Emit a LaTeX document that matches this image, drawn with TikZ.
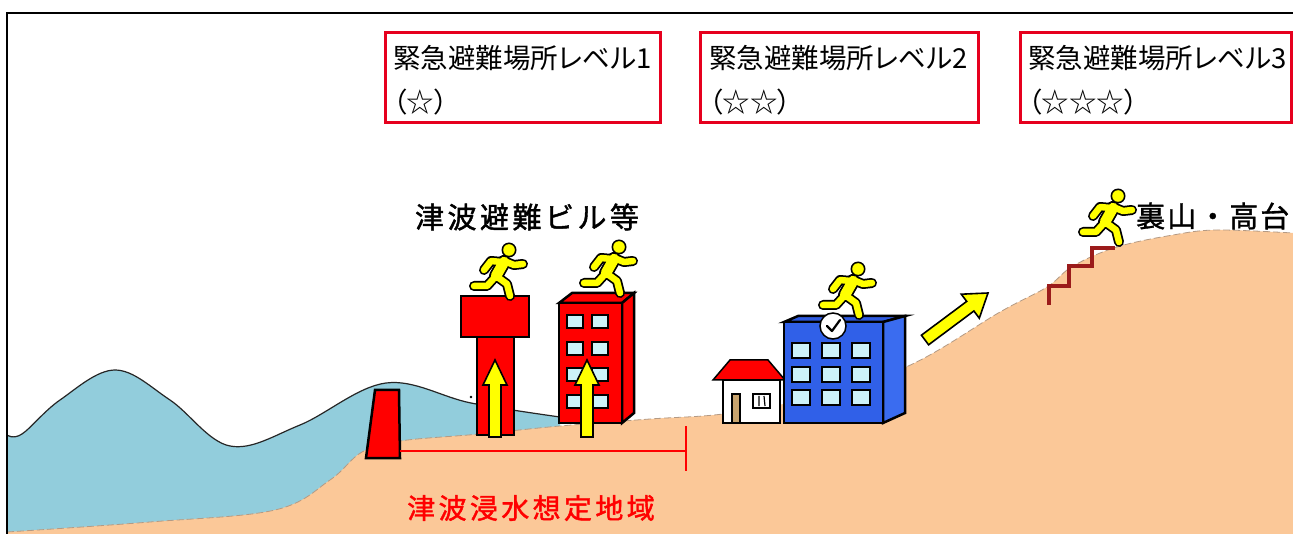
\documentclass[tikz,border=0pt]{standalone}
\usepackage{fontspec}
\newfontfamily\jpbox{Noto Sans CJK JP}[RawFeature=+palt]
\newfontfamily\jplabel{Noto Sans CJK JP}[FakeBold=1.5,LetterSpace=12]
\newfontfamily\jphill{Noto Sans CJK JP}[FakeBold=1.2,LetterSpace=7]
\definecolor{sea}{HTML}{92CDDC}
\definecolor{land}{HTML}{FBC898}
\definecolor{shore}{HTML}{B49A84}
\definecolor{boxred}{HTML}{E6001E}
\definecolor{brightred}{HTML}{FF0000}
\definecolor{runyellow}{HTML}{FFFF00}
\definecolor{stair}{HTML}{9B1B1B}
\definecolor{glass}{HTML}{CCF2FA}
\definecolor{bluefront}{HTML}{3060E8}
\definecolor{blueside}{HTML}{3A6CF0}
\definecolor{bluetop}{HTML}{2F5BE0}
\definecolor{door}{HTML}{C8A46E}
\tikzset{
  levelbox/.style={draw=boxred, line width=3pt, minimum width=#1, minimum height=90pt, inner sep=0pt},
  boxtext/.style={anchor=west, inner sep=0pt, font=\jpbox\fontsize{27.5}{30}\selectfont},
  solid edge/.style={draw=black, line width=2.5pt, line join=miter},
  thin edge/.style={draw=black, line width=1.5pt, line join=miter},
  pane/.style={fill=glass, draw=black, line width=1.6pt},
  limbs/.style={line cap=round, line join=round},
  runner/.pic={
    \draw[black, line width=14pt, limbs] (33,20) -- (25,34);
    \draw[black, line width=10pt, limbs]
      (33,19) -- (43,23) -- (52,22)
      (31,20) -- (20,19) -- (13,28)
      (25,34) -- (16,44) -- (3,44)
      (25,34) -- (36,42) -- (39,54);
    \fill[black] (38,8) circle [radius=7.5pt];
    \draw[runyellow, line width=10.5pt, limbs] (33,20) -- (25,34);
    \draw[runyellow, line width=6.5pt, limbs]
      (33,19) -- (43,23) -- (52,22)
      (31,20) -- (20,19) -- (13,28)
      (25,34) -- (16,44) -- (3,44)
      (25,34) -- (36,42) -- (39,54);
    \fill[runyellow] (38,8) circle [radius=5.8pt];
  },
  risearrow/.pic={
    \draw[fill=runyellow, draw=black, line width=1.6pt, line join=miter]
      (-6,77) -- (-6,25) -- (-12,25) -- (0,0) -- (12,25) -- (6,25) -- (6,77) -- cycle;
  }
}
\begin{document}
\begin{tikzpicture}[x=1pt, y=-1pt]
\useasboundingbox (0,0) rectangle (1293,534);
\fill[white] (0,0) rectangle (1293,534);

% sea
\fill[sea] plot[smooth, tension=0.6] coordinates {(7,435) (22,434) (60,400) (115,370) (170,400) (230,446) (300,425) (386,383) (471,403) (560,417)}
  -- (560,534) -- (7,534) -- cycle;

% land
\fill[land] plot[smooth, tension=0.6] coordinates {(7,532) (150,522) (275,510) (330,480) (362,452) (400,441) (480,434) (560,426) (650,419) (723,414) (800,400) (906,367) (1000,312) (1047,287) (1073,266) (1117,247) (1173,235) (1217,230) (1293,233)}
  -- (1293,534) -- (7,534) -- cycle;
\draw[shore, line width=0.8pt, dash pattern=on 7pt off 3pt] plot[smooth, tension=0.6] coordinates {(7,532) (150,522) (275,510) (330,480) (362,452) (400,441) (480,434) (560,426) (650,419) (723,414) (800,400) (906,367) (1000,312) (1047,287) (1073,266) (1117,247) (1173,235) (1217,230) (1293,233)};

% wave surface
\draw[black!85, line width=1.2pt] plot[smooth, tension=0.6] coordinates {(7,435) (22,434) (60,400) (115,370) (170,400) (230,446) (300,425) (386,383) (471,403) (560,417)};
\fill[black] (471,397) circle [radius=1.3pt];

% seawall
\draw[solid edge, fill=brightred] (375,390) -- (399,390) -- (400,458) -- (366,458) -- cycle;

% expected inundation range
\coordinate (rangeL) at (400,451);
\coordinate (rangeR) at (686,451);
\draw[brightred, line width=2.5pt] (rangeL) -- (rangeR);
\draw[brightred, line width=2.5pt] (686,426) -- (686,471);

% evacuation tower
\draw[solid edge, fill=brightred] (477,337) rectangle (514,435);
\draw[solid edge, fill=brightred] (461,296) rectangle (529,337);
\pic at (495,360) {risearrow};

% evacuation building (red)
\draw[solid edge, fill=brightred] (559,303) -- (572,293) -- (634,293) -- (622,303) -- cycle;
\draw[solid edge, fill=brightred] (622,303) -- (634,293) -- (634,413) -- (622,423) -- cycle;
\draw[solid edge, fill=brightred] (559,303) rectangle (622,423);
\foreach \wy in {315,342,368,395} {
  \draw[pane] (567,\wy) rectangle (583,\wy+13);
  \draw[pane] (592,\wy) rectangle (608,\wy+13);
}
\pic at (587,360) {risearrow};

% house
\draw[thin edge, fill=white] (723,380) rectangle (780,423);
\draw[thin edge, fill=brightred] (713,380) -- (730,360) -- (768,360) -- (785,380) -- cycle;
\draw[thin edge, fill=door] (732,394) rectangle (740,423);
\draw[thin edge, fill=white] (753,394) rectangle (770,408);
\draw[black, line width=1.2pt] (759,396) -- (759,406) (764,396) -- (765,406);

% school building (blue)
\draw[solid edge, fill=bluetop] (784,322) -- (798,316) -- (905,316) -- (883,322) -- cycle;
\draw[solid edge, fill=blueside] (883,322) -- (905,316) -- (905,413) -- (883,423) -- cycle;
\draw[solid edge, fill=bluefront] (784,322) rectangle (883,423);
\foreach \wx in {792,822,852} {
  \foreach \wy in {343,367,390} {
    \draw[pane] (\wx,\wy) rectangle (\wx+18,\wy+15);
  }
}
\draw[thin edge, fill=white] (833,326) circle [radius=13pt];
\draw[black, line width=2.2pt, line cap=round, line join=round] (827,326) -- (832,331) -- (840,320);

% arrow towards the hill
\draw[fill=runyellow, draw=black, line width=1.6pt, line join=miter]
  (928.6,344.8) -- (973.9,311.0) -- (979.3,318.2) -- (988,293) -- (961.3,294.2) -- (966.7,301.4) -- (921.4,335.2) -- cycle;

% steps on the hill
\draw[stair, line width=3.5pt, line join=miter] (1049,305) -- (1049,286) -- (1069,286) -- (1069,266) -- (1092,266) -- (1092,248) -- (1115,248);

% people escaping
\pic (runA) at (471,242) {runner};
\pic (runB) at (581,239) {runner};
\pic (runC) at (820,261) {runner};
\pic (runD) at (1080,188) {runner};

% labels
\node[font=\jplabel\fontsize{29}{32}\selectfont, inner sep=0pt] (bldglabel) at (527,217) {津波避難ビル等};
\node[font=\jphill\fontsize{29}{32}\selectfont, inner sep=0pt, anchor=west] (hilllabel) at (1136,216) {裏山・高台};
\node[font=\jplabel\fontsize{28}{32}\selectfont, inner sep=0pt, text=brightred] (zonelabel) at (531,508) {津波浸水想定地域};

% evacuation site levels
\node[levelbox=275pt] (box1) at (522.5,78) {};
\node[levelbox=278pt] (box2) at (839,78) {};
\node[levelbox=271pt] (box3) at (1155.5,78) {};
\node[boxtext] (box1a) at (393,58) {緊急避難場所レベル1};
\node[boxtext] (box1b) at (393,102) {（☆）};
\node[boxtext] (box2a) at (709,58) {緊急避難場所レベル2};
\node[boxtext] (box2b) at (709,102) {（☆☆）};
\node[boxtext] (box3a) at (1028,58) {緊急避難場所レベル3};
\node[boxtext] (box3b) at (1028,102) {（☆☆☆）};

% frame
\draw[black, line width=2.5pt] (6,13) -- (1293,13);
\draw[black, line width=2pt] (7,13) -- (7,534);
\end{tikzpicture}
\end{document}
